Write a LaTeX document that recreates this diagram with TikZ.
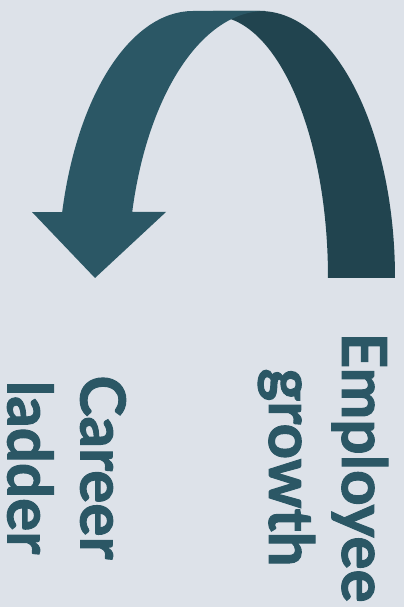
\documentclass[tikz,border=0pt]{standalone}
\usepackage{fontspec}
\newfontfamily\loopfont{Lato}[BoldFeatures={FakeBold=1.6}]
\definecolor{LoopBack}{HTML}{21444F}
\definecolor{LoopFront}{HTML}{2B5765}
\definecolor{LoopPaper}{HTML}{DDE2E9}
\begin{document}
\begin{tikzpicture}[x=0.5pt,y=0.5pt,
    looplabel/.style={rotate=-90,align=center,inner sep=0pt,text=LoopFront,
      font=\loopfont\bfseries\fontsize{31}{36.5}\selectfont}]
  \fill[LoopPaper] (0,0) rectangle (404,607);
  \useasboundingbox (0,0) rectangle (404,607);
  \fill[LoopBack] (395,329) arc[start angle=0,end angle=90,x radius=135,y radius=267]
    -- (213,596) -- (213,591) arc[start angle=90,end angle=0,x radius=115,y radius=262] -- cycle;
  \fill[LoopFront] (32,395) -- (95,329) -- (166,395) -- (132.2,395)
    arc[start angle=165.69,end angle=90,x radius=137,y radius=267]
    -- (193,596) arc[start angle=90,end angle=165.69,x radius=135,y radius=267] -- cycle;
  \node[looplabel] (growth) at (323,139.5) {Employee\\growth};
  \node[looplabel] (ladder) at (66.5,139.5) {Career\\ladder};
\end{tikzpicture}
\end{document}
